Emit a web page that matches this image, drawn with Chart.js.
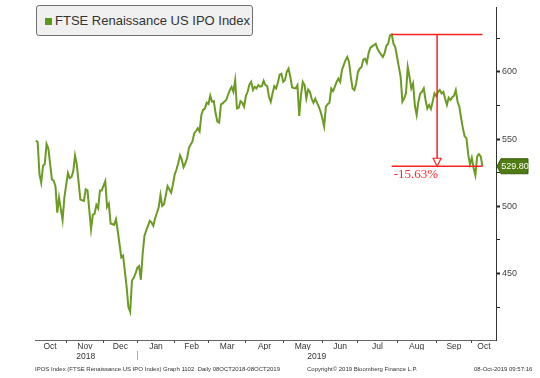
<!DOCTYPE html>
<html>
<head>
<meta charset="utf-8">
<script src="https://cdn.jsdelivr.net/npm/chart.js@4.4.1/dist/chart.umd.min.js"></script>
<style>
  body { margin: 0; background: #fff; }
  #wrap { position: relative; width: 540px; height: 378px; }
  .legend {
    position: absolute; left: 36px; top: 5px; width: 215px; height: 29px;
    background: #f0f0f0; border: 1px solid #707070; border-radius: 3px;
    font: 13px "Liberation Sans", Arial, sans-serif; color: #333;
  }
  .legend .sw { position: absolute; left: 8px; top: 12px; width: 7px; height: 7px; background: #5b9a16; }
  .legend .txt { position: absolute; left: 18px; top: 7px; white-space: nowrap; }
  .foot { position: absolute; top: 366px; font: 6px "Liberation Sans", Arial, sans-serif; color: #333; white-space: nowrap; }
</style>
</head>
<body>
<div id="wrap">
  <canvas id="chart" width="540" height="378"></canvas>
  <div class="legend"><span class="sw"></span><span class="txt">FTSE Renaissance US IPO Index</span></div>
  <div class="foot" style="left:35px">IPOS Index (FTSE Renaissance US IPO Index) Graph 1102&nbsp; Daily 08OCT2018-08OCT2019</div>
  <div class="foot" style="left:307px">Copyright© 2019 Bloomberg Finance L.P.</div>
  <div class="foot" style="left:474px">08-Oct-2019 09:57:16</div>
</div>
<script>
// trading-day index since 08-Oct-2018, and index level
const tradingDay = [1,2,3,4,5,6,7,8,10,11,12,13,14,16,17,19,20,21,22,23,24,26,28,29,30,32,33,34,35,36,37,38,40,41,42,43,45,46,47,49,50,52,53,54,55,56,57,58,59,60,61,62,63,64,65,66,67,68,69,70,71,72,73,74,75,76,77,78,79,80,81,82,83,84,85,86,87,88,89,90,91,92,93,94,95,96,97,98,99,100,101,102,103,104,105,106,107,108,109,110,111,112,113,114,115,116,117,118,119,120,121,122,123,124,125,126,127,128,129,130,131,132,133,134,135,136,137,138,139,140,141,142,143,144,145,146,147,148,149,150,151,152,153,154,155,156,157,158,159,160,161,162,163,164,165,166,167,168,169,170,171,172,173,174,175,176,177,178,179,180,181,182,183,184,185,186,187,188,189,190,191,192,193,194,195,196,197,198,199,200,201,202,203,204,205,206,207,208,209,210,211,212,213,214,215,216,217,218,219,220,221,222,223,224,225,226,227,228,229,230,231,232,233,234,235,236,237,238,239,240,241,242,243,244,245,246,247,248,249,250,251,252];
const indexLevel = [549,547.8,524,517.5,530,531.5,546.3,543,520,519,515,495.3,506.4,489.7,506.4,524.8,521,521.7,526,537.7,531,505,504,512.6,511.8,483,493.6,494.5,501,498.5,511.8,511.8,518.7,499.5,502,487.2,486.2,490.4,481.8,462,463.3,440,425,421.4,444.8,446.8,450,454.2,455.5,445.3,464.5,478,482,485.5,489.2,487.9,485.5,491,495,499,508.4,500.2,501.5,508,515,512.6,510.1,516,523.6,527.4,532,537.9,534.7,529.1,532,535.9,543.3,546,548.3,554.4,556,558.1,555.7,568,571.7,572.9,577.1,576.1,582.3,577.8,578.3,569.2,563,562.3,575.8,576.6,578,579.1,583,586.5,588.9,585.2,593.8,572.9,573.4,578.3,577,574.1,582,585.2,590.6,592.6,586.5,588.9,587.7,590.2,589,589.4,593.3,590.2,589.4,581.5,577.8,584,589.4,587.7,591.9,598,598.7,592.6,593.9,600,602.4,596.3,588.4,588,587.7,590.2,567.3,583,592.6,590.2,580.3,586.9,585.2,580,577,580,577,574.1,570.4,565.5,559.4,574.1,576,577.1,587.7,585.7,588.9,592.6,595,592.6,601.2,605,608.6,611.1,607.4,596.3,587.7,586.5,591.4,600,602.4,603.7,609.1,609.8,606.7,614,618,619,620,620.9,617.2,614.8,613,611.1,614,619.5,621,627.1,627.9,620.9,618.5,611.1,603.7,596.3,577.8,580.3,584,603.7,596.3,587.7,591.4,575,568,577.8,584,585.2,587.7,579.1,572.9,575.4,572.4,577.8,584,582,585,586.5,584,585.2,580,575.4,580.8,579.1,581,582.3,586.5,577.8,574.1,565.5,558,552,550.7,538.4,531.1,536,528.5,523.1,537.2,538.9,537.2,529.8];

// first trading day of each month (tick marks) and month label positions
const monthStarts = [18,39,58,79,98,119,140,162,182,204,226,246];
const monthNames = ['Oct','Nov','Dec','Jan','Feb','Mar','Apr','May','Jun','Jul','Aug','Sep','Oct'];
const monthCenters = [9,28.5,48.5,68.5,88.5,108.5,129.5,151,172,193,215,236,252.8];
const yearLabels = ['2018','2019'];
const yearCenters = [29,158.8];
const yMajor = [450,500,550,600];
const yMinor = [425,475,525,575,625];
const dropLabel = '-15.63%';

const xMin = 0.5, xMax = 259.6;

const monthLabelOf = new Map(monthCenters.map((v, i) => [v, monthNames[i]]));
const yearLabelOf = new Map(yearCenters.map((v, i) => [v, yearLabels[i]]));

const lastDay = tradingDay[tradingDay.length - 1];
const lastLevel = indexLevel[indexLevel.length - 1];
let peakLevel = -Infinity, peakDay = 0;
indexLevel.forEach((v, i) => { if (v > peakLevel) { peakLevel = v; peakDay = tradingDay[i]; } });

const axisFont = { family: '"Liberation Sans", Arial, sans-serif', size: 8.5 };

const overlay = {
    id: 'overlay',
    afterDatasetsDraw(chart) {
        const { ctx, scales: { x, y } } = chart;
        const xl = x.getPixelForValue(peakDay);
        const xr = x.getPixelForValue(lastDay);
        const yt = y.getPixelForValue(peakLevel);
        const yb = y.getPixelForValue(lastLevel);
        const xm = (xl + xr) / 2;
        ctx.save();
        ctx.strokeStyle = '#ff2020';
        ctx.lineWidth = 1.5;
        ctx.beginPath();
        ctx.moveTo(xl, yt); ctx.lineTo(xr, yt);
        ctx.moveTo(xl, yb); ctx.lineTo(xr, yb);
        ctx.moveTo(xm, yt); ctx.lineTo(xm, yb - 8);
        ctx.stroke();
        // hollow arrow head
        ctx.lineWidth = 1.2;
        ctx.fillStyle = '#fff';
        ctx.beginPath();
        ctx.moveTo(xm - 4, yb - 8); ctx.lineTo(xm + 4, yb - 8); ctx.lineTo(xm, yb);
        ctx.closePath();
        ctx.fill(); ctx.stroke();
        ctx.fillStyle = '#ff2a2a';
        ctx.font = '13px "Liberation Serif", "Times New Roman", serif';
        ctx.textBaseline = 'middle';
        ctx.textAlign = 'left';
        ctx.fillText(dropLabel, xl + 2, yb + 8);
        ctx.restore();
    },
    afterDraw(chart) {
        const { ctx, scales: { x, x2, y } } = chart;
        ctx.save();
        // year separator under Jan
        const sx = Math.round(x.getPixelForValue(monthStarts[2])) + 0.5;
        ctx.strokeStyle = '#aaa';
        ctx.lineWidth = 1;
        ctx.beginPath();
        ctx.moveTo(sx, x2.top + 1); ctx.lineTo(sx, x2.top + 10);
        ctx.stroke();
        // last price tag
        const yb = y.getPixelForValue(lastLevel);
        const left = chart.chartArea.right + 1;
        ctx.fillStyle = '#4e7b12';
        ctx.strokeStyle = '#3b5e0b';
        ctx.beginPath();
        ctx.moveTo(left, yb);
        ctx.lineTo(left + 4, yb - 7.5);
        ctx.lineTo(left + 31, yb - 7.5);
        ctx.lineTo(left + 31, yb + 7.5);
        ctx.lineTo(left + 4, yb + 7.5);
        ctx.closePath();
        ctx.fill(); ctx.stroke();
        ctx.fillStyle = '#fff';
        ctx.font = '9px "Liberation Sans", Arial, sans-serif';
        ctx.textAlign = 'center';
        ctx.textBaseline = 'middle';
        ctx.fillText(lastLevel.toFixed(2), left + 18, yb + 0.5);
        ctx.restore();
    }
};

new Chart(document.getElementById('chart'), {
    type: 'line',
    data: {
        datasets: [{
            label: 'FTSE Renaissance US IPO Index',
            data: tradingDay.map((d, i) => ({ x: d, y: indexLevel[i] })),
            borderColor: '#6b9b22',
            borderWidth: 2,
            pointRadius: 0,
            tension: 0
        }]
    },
    options: {
        responsive: false,
        animation: false,
        devicePixelRatio: 1,
        layout: { padding: { left: 35, right: 0, top: 5, bottom: 16 } },
        plugins: { legend: { display: false }, tooltip: { enabled: false } },
        scales: {
            x: {
                type: 'linear', position: 'bottom', weight: 1, min: xMin, max: xMax,
                afterBuildTicks: a => { a.ticks = monthStarts.concat(monthCenters).sort((p, q) => p - q).map(v => ({ value: v })); },
                afterFit: a => { a.height = 10; },
                grid: {
                    drawOnChartArea: false, drawTicks: true, tickLength: 3,
                    tickColor: c => (c.tick && monthLabelOf.has(c.tick.value)) ? 'rgba(0,0,0,0)' : '#444'
                },
                border: { color: '#666', width: 1 },
                ticks: {
                    autoSkip: false, maxRotation: 0, padding: -1, color: '#333', font: axisFont,
                    callback: v => monthLabelOf.get(v) || ''
                }
            },
            x2: {
                type: 'linear', position: 'bottom', weight: 2, min: xMin, max: xMax,
                afterBuildTicks: a => { a.ticks = yearCenters.map(v => ({ value: v })); },
                afterFit: a => { a.height = 12; },
                grid: { display: false, drawTicks: false },
                border: { display: false },
                ticks: {
                    autoSkip: false, maxRotation: 0, padding: 2, color: '#333', font: axisFont,
                    callback: v => yearLabelOf.get(v) || ''
                }
            },
            y: {
                type: 'linear', position: 'right', min: 400.5, max: 648,
                afterBuildTicks: a => { a.ticks = yMinor.concat(yMajor).sort((p, q) => p - q).map(v => ({ value: v })); },
                afterFit: a => { a.width = 44; },
                grid: {
                    drawOnChartArea: false, drawTicks: true, tickLength: 4, tickColor: '#222',
                    tickWidth: c => (c.tick && yMajor.includes(c.tick.value)) ? 2 : 1
                },
                border: { color: '#333', width: 1 },
                ticks: {
                    autoSkip: false, padding: 2, color: '#444', font: { family: '"Liberation Sans", Arial, sans-serif', size: 9 },
                    callback: v => yMajor.includes(v) ? String(v) : ''
                }
            }
        }
    },
    plugins: [overlay]
});
</script>
</body>
</html>
